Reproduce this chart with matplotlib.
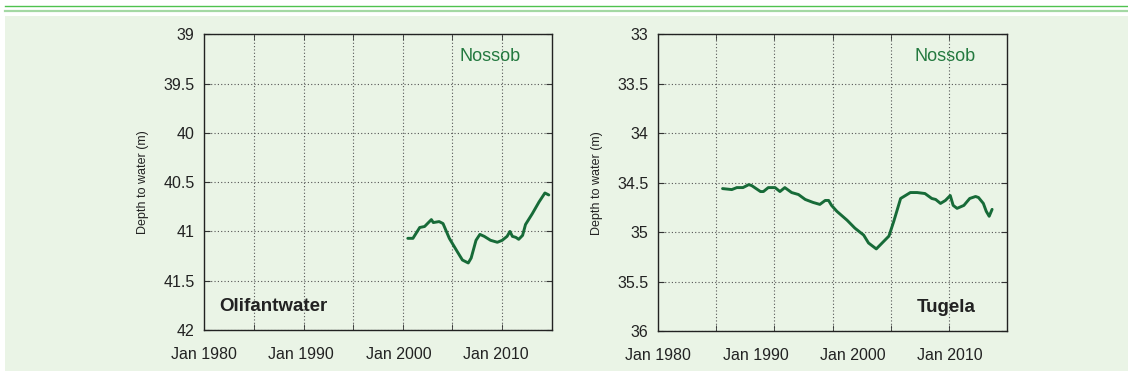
import numpy as np
import matplotlib
matplotlib.use("Agg")
import matplotlib.pyplot as plt
from matplotlib.patches import Rectangle
from matplotlib.lines import Line2D

plt.rcParams['font.family'] = ['Liberation Sans', 'DejaVu Sans']

# decimal years / depth to water (m)
olif_years = [2000.97, 2001.5, 2002.2, 2002.7, 2003.4, 2003.6, 2004.2, 2004.6,
              2005.25, 2006.1, 2006.6, 2007.2, 2007.5, 2008.0, 2008.4, 2008.85,
              2009.5, 2010.2, 2010.7, 2011.2, 2011.5, 2011.75, 2012.1, 2012.4,
              2012.8, 2013.1, 2013.8, 2014.5, 2015.1, 2015.5]
olif_depth = [41.07, 41.07, 40.96, 40.95, 40.88, 40.91, 40.90, 40.92,
              41.07, 41.21, 41.29, 41.32, 41.27, 41.09, 41.03, 41.05,
              41.09, 41.11, 41.09, 41.05, 41.00, 41.05, 41.06, 41.08,
              41.04, 40.93, 40.82, 40.70, 40.61, 40.63]

tug_years = [1986.6, 1987.55, 1988.07, 1988.7, 1989.3, 1989.6, 1990.5, 1990.8,
             1991.3, 1992.0, 1992.5, 1993.0, 1993.7, 1994.4, 1995.1, 1995.9,
             1996.6, 1997.15, 1997.5, 1997.8, 1998.35, 1999.4, 2000.2, 2001.1,
             2001.6, 2002.4, 2003.0, 2003.7, 2004.2, 2004.9, 2005.4, 2005.9,
             2006.6, 2007.4, 2008.1, 2008.5, 2009.0, 2009.5, 2010.0, 2010.3,
             2010.7, 2011.4, 2012.0, 2012.6, 2012.9, 2013.4, 2013.7, 2014.0,
             2014.3]
tug_depth = [34.56, 34.57, 34.55, 34.55, 34.52, 34.53, 34.59, 34.59,
             34.55, 34.55, 34.59, 34.55, 34.60, 34.62, 34.67, 34.70,
             34.72, 34.68, 34.68, 34.73, 34.79, 34.88, 34.96, 35.03,
             35.11, 35.17, 35.11, 35.04, 34.89, 34.66, 34.63, 34.60,
             34.60, 34.61, 34.66, 34.67, 34.71, 34.68, 34.63, 34.73,
             34.76, 34.73, 34.66, 34.64, 34.65, 34.71, 34.79, 34.84,
             34.77]

year_ticks = [1980, 1990, 2000, 2010]
year_labels = ['Jan 1980', 'Jan 1990', 'Jan 2000', 'Jan 2010']

bg = '#eaf4e6'
line_col = '#176b38'
text_green = '#23793f'

fig = plt.figure(figsize=(11.28, 3.8), dpi=100)
fig.patch.set_facecolor('white')

W, H = 1128.0, 380.0
fig.add_artist(Rectangle((5 / W, 1 - 371 / H), 1 - 5 / W, (371 - 16) / H,
                         transform=fig.transFigure, facecolor=bg,
                         edgecolor='none', zorder=0))
fig.add_artist(Line2D([5 / W, 1], [1 - 6 / H] * 2, transform=fig.transFigure,
                      color='#4fc24f', lw=1.0))
fig.add_artist(Line2D([5 / W, 1], [1 - 10.5 / H] * 2, transform=fig.transFigure,
                      color='#a4d8a4', lw=1.6))


def panel(rect, years, depth, ylo, yhi, ngrid):
    ax = fig.add_axes(rect)
    ax.set_facecolor(bg)
    ax.plot(years, depth, color=line_col, lw=2.1, solid_capstyle='round',
            solid_joinstyle='round')
    xmin, xmax = 1980, 2015.8
    ax.set_xlim(xmin, xmax)
    ax.set_ylim(yhi, ylo)
    ax.set_xticks(year_ticks)
    ax.set_xticklabels(year_labels)
    ax.set_xticks(np.linspace(xmin, xmax, ngrid + 1)[1:-1], minor=True)
    yt = np.arange(ylo, yhi + 0.01, 0.5)
    ax.set_yticks(yt)
    ax.set_yticklabels(['%g' % v for v in yt])
    ax.tick_params(axis='x', which='major', length=0, pad=12,
                   labelsize=11.5, labelcolor='#222222')
    ax.tick_params(axis='x', which='minor', direction='in', length=4,
                   top=True, bottom=True, color='#333333')
    ax.tick_params(axis='y', which='major', direction='in', length=4,
                   left=True, right=True, pad=7, labelsize=11.5,
                   labelcolor='#222222', color='#333333')
    ax.grid(True, axis='x', which='minor', color='#555555', ls=(0, (1, 2)), lw=0.8)
    ax.grid(True, axis='y', which='major', color='#555555', ls=(0, (1, 2)), lw=0.8)
    for s in ax.spines.values():
        s.set_color('#222222')
        s.set_linewidth(1.0)
    ax.set_ylabel('Depth to water (m)', fontsize=9, color='#222222', labelpad=10)
    ax.text(0.823, 0.924, 'Nossob', transform=ax.transAxes, color=text_green,
            fontsize=13, ha='center', va='center')
    return ax


ax1 = panel([204.3 / W, 1 - 330 / H, 347.4 / W, 295.7 / H],
            olif_years, olif_depth, 39, 42, 7)
ax1.text(0.043, 0.079, 'Olifantwater', transform=ax1.transAxes, fontsize=13.5,
         fontweight='bold', color='#222222', ha='left', va='center')

ax2 = panel([658.3 / W, 1 - 331 / H, 348.4 / W, 296.7 / H],
            tug_years, tug_depth, 33, 36, 6)
ax2.text(0.912, 0.08, 'Tugela', transform=ax2.transAxes, fontsize=13.5,
         fontweight='bold', color='#222222', ha='right', va='center')

fig.savefig('out.png', dpi=100, facecolor=fig.get_facecolor())
